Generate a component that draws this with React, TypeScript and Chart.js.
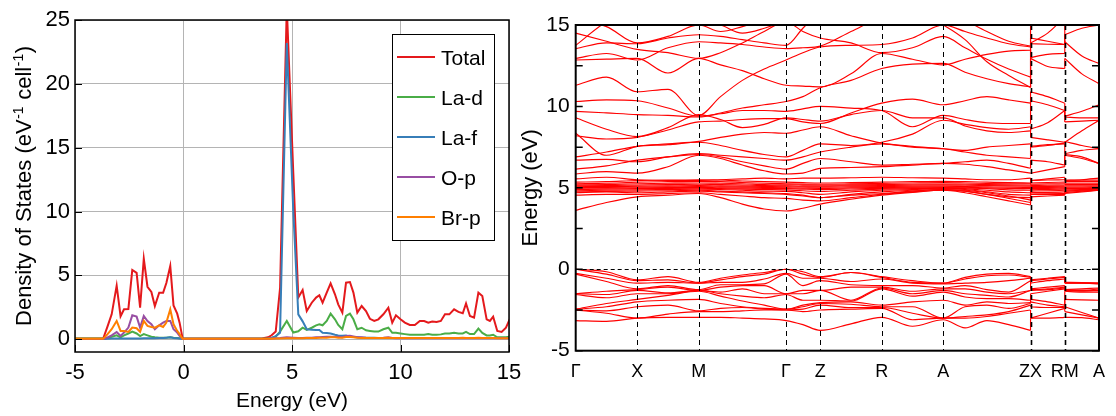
import React, { useEffect, useRef } from 'react';
import { Chart, registerables } from 'chart.js';

Chart.register(...registerables);

const FONT = "'Liberation Sans', Arial, Helvetica, sans-serif";

// ---------------- Density of states (left panel) ----------------
const dosEnergy = [
  -5, -3.7, -3.5, -3.31, -3.08, -2.9, -2.74, -2.54, -2.36, -2.16,
  -2.0, -1.83, -1.66, -1.48, -1.32, -1.12, -0.94, -0.79, -0.61, -0.46,
  -0.29, -0.18, -0.04,
  0.1, 3.6,
  3.9, 4.06, 4.25, 4.45, 4.76, 5.06, 5.29, 5.49, 5.68, 5.91,
  6.11, 6.26, 6.41, 6.6, 6.78, 6.98, 7.13, 7.32, 7.49, 7.67,
  7.83, 8.01, 8.21, 8.41, 8.59, 8.79, 8.98, 9.21, 9.44, 9.62,
  9.79, 10.0, 10.2, 10.43, 10.66, 10.89, 11.09, 11.28, 11.46, 11.66,
  11.86, 12.05, 12.25, 12.47, 12.67, 12.87, 13.02, 13.2, 13.39, 13.59,
  13.77, 13.97, 14.12, 14.27, 14.46, 14.66, 14.86, 15.04,
];

const dosTotal = [
  0.05, 0.05, 1.0, 1.95, 4.2, 1.8, 2.35, 2.37, 5.42, 5.2,
  2.47, 6.3, 4.11, 3.7, 2.6, 3.64, 3.64, 4.4, 5.73, 2.65,
  2.0, 1.3, 0.05,
  0.05, 0.05,
  0.15, 0.31, 0.6, 4.0, 26, 13, 3.26, 3.85, 2.21, 2.86,
  3.26, 3.44, 2.86, 3.65, 4.38, 3.52, 2.73, 2.08, 4.43, 4.48,
  3.65, 2.08, 2.6, 2.2, 1.6, 1.43, 1.56, 1.95, 2.47, 1.3,
  1.87, 1.56, 1.3, 1.12, 1.12, 1.43, 1.43, 1.3, 1.38, 1.35,
  1.43, 1.95, 1.95, 2.34, 2.14, 2.03, 2.8, 1.82, 1.69, 3.65,
  3.39, 1.56, 1.43, 1.77, 0.65, 0.57, 0.9, 1.6,
];

const dosLaD = [
  0.05, 0.05, 0.1, 0.2, 0.3, 0.15, 0.3, 0.45, 0.6, 0.45,
  0.25, 0.4, 0.3, 0.2, 0.15, 0.12, 0.12, 0.12, 0.15, 0.12,
  0.1, 0.08, 0.05,
  0.03, 0.03,
  0.05, 0.1, 0.2, 0.6, 1.43, 0.52, 0.62, 0.9, 0.73, 0.9,
  1.09, 1.17, 1.09, 1.43, 2.0, 1.56, 1.12, 0.78, 1.82, 2.0,
  1.56, 0.78, 0.9, 0.7, 0.65, 0.6, 0.6, 0.78, 0.9, 0.5,
  0.5, 0.45, 0.4, 0.35, 0.35, 0.35, 0.35, 0.4, 0.35, 0.35,
  0.38, 0.45, 0.45, 0.5, 0.45, 0.45, 0.57, 0.4, 0.4, 0.83,
  0.5, 0.3, 0.3, 0.35, 0.15, 0.15, 0.15, 0.2,
];

const dosLaF = [
  0.02, 0.02, 0.03, 0.05, 0.05, 0.05, 0.05, 0.05, 0.06, 0.06,
  0.05, 0.07, 0.07, 0.07, 0.07, 0.1, 0.1, 0.12, 0.15, 0.1,
  0.08, 0.05, 0.02,
  0.03, 0.03,
  0.03, 0.1, 0.25, 0.5, 23.2, 10, 1.95, 1.4, 0.78, 0.75,
  0.73, 0.72, 0.5, 0.48, 0.45, 0.35, 0.3, 0.28, 0.3, 0.2,
  0.18, 0.15, 0.12, 0.12, 0.12, 0.12, 0.1, 0.1, 0.1, 0.1,
  0.1, 0.1, 0.1, 0.1, 0.1, 0.1, 0.1, 0.1, 0.1, 0.1,
  0.1, 0.1, 0.1, 0.1, 0.1, 0.1, 0.1, 0.1, 0.1, 0.1,
  0.1, 0.1, 0.1, 0.1, 0.1, 0.1, 0.1, 0.1,
];

const dosOP = [
  0.02, 0.02, 0.15, 0.31, 0.57, 0.26, 0.52, 0.91, 1.87, 1.77,
  0.91, 1.82, 1.43, 1.17, 0.78, 1.09, 1.3, 1.43, 1.43, 0.78,
  0.52, 0.26, 0.02,
  0.02, 0.02,
  0.03, 0.05, 0.08, 0.1, 0.15, 0.12, 0.1, 0.1, 0.12, 0.12,
  0.15, 0.15, 0.18, 0.2, 0.2, 0.18, 0.2, 0.15, 0.25, 0.28,
  0.22, 0.15, 0.15, 0.12, 0.1, 0.1, 0.1, 0.12, 0.15, 0.1,
  0.08, 0.08, 0.08, 0.08, 0.08, 0.08, 0.08, 0.08, 0.08, 0.08,
  0.08, 0.08, 0.08, 0.08, 0.08, 0.08, 0.08, 0.08, 0.08, 0.08,
  0.08, 0.08, 0.08, 0.08, 0.08, 0.08, 0.08, 0.08,
];

const dosBrP = [
  0.03, 0.03, 0.4, 0.78, 1.43, 0.65, 0.65, 0.57, 0.91, 0.86,
  0.57, 1.43, 1.04, 0.96, 0.91, 1.09, 0.96, 1.3, 2.34, 1.17,
  0.65, 0.4, 0.03,
  0.03, 0.03,
  0.03, 0.04, 0.05, 0.06, 0.08, 0.08, 0.08, 0.08, 0.1, 0.1,
  0.1, 0.12, 0.12, 0.12, 0.15, 0.15, 0.12, 0.12, 0.18, 0.18,
  0.15, 0.12, 0.1, 0.1, 0.1, 0.1, 0.1, 0.1, 0.12, 0.1,
  0.1, 0.1, 0.1, 0.1, 0.1, 0.1, 0.1, 0.1, 0.1, 0.1,
  0.1, 0.1, 0.1, 0.1, 0.1, 0.12, 0.1, 0.1, 0.1, 0.12,
  0.1, 0.1, 0.1, 0.1, 0.08, 0.08, 0.08, 0.08,
];

const dosNames = ['Total', 'La-d', 'La-f', 'O-p', 'Br-p'];
const dosColors = ['#e4191c', '#4aad47', '#377eb8', '#984ea3', '#ff7f00'];
const dosXTicks = [-5, 0, 5, 10, 15];
const dosYTicks = [0, 5, 10, 15, 20, 25];

// ---------------- Band structure (right panel) ----------------
// k-path sample positions: Γ . X . M . . . Γ . Z . R . A . . . Z | X . R | M . A
const kPath = [
  0, 31, 62, 93, 124, 146, 168, 190, 212,
  229, 246.5, 277.5, 308.5, 339.5, 370.5, 392.5, 414.5, 436.5, 458.5,
  458.5, 475.75, 493,
  493, 510.25, 527.5,
];
const kTickPos = [0, 62, 124, 212, 246.5, 308.5, 370.5, 458.5, 493, 527.5];
const kTickLabels = ['Γ', 'X', 'M', 'Γ', 'Z', 'R', 'A', 'ZX', 'RM', 'A'];
const bandYTicks = [-5, 0, 5, 10, 15];

const valenceBands = [
  [-3.15, -3.2, -3.0, -2.95, -2.95, -2.95, -3.0, -3.05, -3.15, -3.4, -3.75, -3.35, -2.95, -3.5, -3.1, -3.6, -3.15, -3.4, -3.75, -3.0, -3.0, -2.95, -2.95, -2.97, -3.1],
  [-2.5, -2.7, -3.0, -2.75, -2.6, -2.6, -2.55, -2.5, -2.5, -2.6, -2.5, -2.45, -2.4, -3.1, -3.0, -3.0, -2.9, -2.7, -2.5, -3.0, -2.7, -2.4, -2.6, -2.8, -3.0],
  [-2.5, -2.55, -2.3, -2.2, -2.55, -2.4, -2.35, -2.45, -2.5, -2.45, -2.2, -2.35, -2.35, -2.7, -3.0, -2.9, -2.8, -2.6, -2.2, -2.3, -2.35, -2.35, -2.3, -2.65, -3.0],
  [-2.45, -2.3, -2.0, -1.9, -1.85, -2.1, -2.3, -2.4, -2.45, -2.3, -2.1, -2.15, -2.3, -2.3, -3.0, -2.3, -2.2, -2.4, -2.1, -2.0, -2.2, -2.3, -1.85, -1.88, -1.9],
  [-2.45, -2.1, -1.85, -1.6, -1.35, -1.65, -1.95, -2.2, -2.45, -2.2, -2.05, -2.0, -2.2, -2.0, -1.9, -2.2, -2.0, -2.1, -2.05, -1.85, -2.0, -2.2, -1.35, -1.4, -1.4],
  [-1.55, -1.75, -1.5, -1.5, -1.3, -1.5, -1.65, -1.75, -1.55, -1.9, -1.9, -1.95, -1.2, -1.65, -1.4, -1.7, -1.8, -1.8, -1.9, -1.5, -1.35, -1.2, -1.3, -1.35, -1.3],
  [-1.5, -1.55, -1.3, -1.45, -1.3, -1.4, -1.2, -1.5, -1.5, -1.5, -1.3, -1.9, -1.15, -1.5, -1.3, -1.5, -1.6, -1.7, -1.3, -1.3, -1.25, -1.15, -1.3, -1.3, -1.3],
  [-1.5, -1.35, -1.25, -1.1, -1.3, -1.1, -1.0, -1.0, -1.5, -1.3, -1.3, -1.1, -1.1, -1.35, -1.2, -1.2, -1.4, -1.5, -1.3, -1.25, -1.2, -1.1, -1.3, -1.3, -1.2],
  [-0.3, -0.75, -1.2, -1.0, -1.25, -0.95, -0.95, -0.9, -0.3, -1.0, -0.7, -0.95, -1.0, -1.0, -1.15, -1.0, -1.25, -1.4, -0.7, -1.2, -1.1, -1.0, -1.25, -1.2, -1.15],
  [-0.25, -0.55, -0.85, -0.8, -0.85, -0.8, -0.8, -0.6, -0.25, -0.55, -0.55, -0.75, -0.6, -0.85, -0.9, -0.85, -0.8, -0.7, -0.55, -0.85, -0.7, -0.6, -0.85, -0.85, -0.9],
  [0, -0.3, -0.7, -0.65, -0.85, -0.65, -0.45, -0.3, 0, -0.3, -0.5, -0.2, -0.5, -0.8, -0.85, -0.6, -0.4, -0.35, -0.5, -0.7, -0.6, -0.5, -0.85, -0.85, -0.85],
  [0, -0.15, -0.65, -0.45, -0.8, -0.55, -0.35, -0.2, 0, -0.15, -0.45, -0.2, -0.45, -0.7, -0.85, -0.5, -0.3, -0.25, -0.45, -0.65, -0.55, -0.45, -0.8, -0.82, -0.85],
];

const lowConductionBands = [
  [3.62, 4.1, 4.45, 4.55, 4.65, 4.4, 4.0, 3.7, 3.58, 3.75, 4.0, 4.3, 4.55, 4.72, 4.85, 4.7, 4.45, 4.2, 3.95, 4.45, 4.5, 4.55, 4.65, 4.75, 4.85],
  [4.55, 4.6, 4.6, 4.65, 4.7, 4.6, 4.5, 4.4, 4.35, 4.25, 4.2, 4.4, 4.6, 4.75, 4.85, 4.8, 4.6, 4.35, 4.1, 4.6, 4.6, 4.6, 4.7, 4.8, 4.85],
  [4.7, 4.75, 4.7, 4.75, 4.8, 4.75, 4.7, 4.65, 4.6, 4.5, 4.4, 4.55, 4.65, 4.8, 4.9, 4.85, 4.7, 4.5, 4.25, 4.7, 4.68, 4.65, 4.8, 4.85, 4.9],
];

const fBands = [
  [4.75, 4.78, 4.8, 4.82, 4.85, 4.8, 4.75, 4.7, 4.65, 4.55, 4.4, 4.6, 4.75, 4.85, 4.9, 4.8, 4.6, 4.45, 4.4, 4.7, 4.72, 4.75, 4.8, 4.82, 4.85],
  [4.82, 4.85, 4.88, 4.9, 4.92, 4.9, 4.85, 4.8, 4.78, 4.7, 4.6, 4.75, 4.85, 4.9, 4.95, 4.9, 4.75, 4.6, 4.55, 4.8, 4.82, 4.85, 4.88, 4.9, 4.92],
  [4.9, 4.92, 4.95, 4.97, 4.98, 4.95, 4.92, 4.9, 4.88, 4.82, 4.78, 4.85, 4.92, 4.95, 4.98, 4.95, 4.85, 4.75, 4.7, 4.88, 4.9, 4.92, 4.95, 4.95, 4.97],
  [4.97, 4.98, 5.0, 5.02, 5.03, 5.0, 4.98, 4.96, 4.95, 4.92, 4.9, 4.93, 4.97, 5.0, 5.02, 5.0, 4.95, 4.88, 4.85, 4.95, 4.97, 4.98, 5.0, 5.0, 5.02],
  [5.02, 5.03, 5.05, 5.06, 5.08, 5.06, 5.04, 5.02, 5.0, 4.98, 4.97, 5.0, 5.02, 5.04, 5.05, 5.04, 5.0, 4.97, 4.95, 5.02, 5.03, 5.04, 5.05, 5.05, 5.06],
  [5.07, 5.08, 5.1, 5.12, 5.14, 5.12, 5.1, 5.08, 5.06, 5.05, 5.04, 5.06, 5.08, 5.1, 5.1, 5.08, 5.06, 5.04, 5.03, 5.08, 5.09, 5.1, 5.12, 5.12, 5.12],
  [5.12, 5.14, 5.17, 5.2, 5.22, 5.2, 5.17, 5.14, 5.12, 5.1, 5.1, 5.12, 5.14, 5.16, 5.17, 5.16, 5.14, 5.12, 5.1, 5.15, 5.16, 5.17, 5.2, 5.2, 5.2],
  [5.18, 5.2, 5.25, 5.28, 5.3, 5.28, 5.25, 5.2, 5.18, 5.17, 5.16, 5.18, 5.2, 5.22, 5.23, 5.22, 5.2, 5.18, 5.16, 5.22, 5.24, 5.25, 5.28, 5.28, 5.28],
  [5.25, 5.28, 5.35, 5.38, 5.4, 5.38, 5.33, 5.28, 5.25, 5.23, 5.22, 5.24, 5.27, 5.3, 5.32, 5.3, 5.27, 5.25, 5.24, 5.3, 5.33, 5.35, 5.38, 5.38, 5.38],
  [5.35, 5.38, 5.45, 5.47, 5.5, 5.48, 5.42, 5.38, 5.35, 5.32, 5.3, 5.32, 5.35, 5.38, 5.4, 5.38, 5.35, 5.32, 5.3, 5.45, 5.48, 5.5, 5.47, 5.47, 5.47],
];

const upperBands = [
  [5.55, 5.65, 5.5, 5.45, 5.45, 5.5, 5.55, 5.6, 5.55, 5.6, 5.6, 5.62, 5.65, 5.62, 5.6, 5.55, 5.5, 5.5, 5.6, 5.45, 5.55, 5.65, 5.45, 5.5, 5.6],
  [5.85, 6.0, 5.9, 6.3, 7.0, 6.8, 6.4, 6.05, 5.85, 5.9, 6.2, 6.25, 6.3, 6.4, 6.5, 6.45, 6.3, 6.1, 5.9, 5.9, 6.1, 6.3, 7.0, 6.8, 6.5],
  [6.15, 6.35, 6.7, 6.9, 7.05, 6.9, 6.6, 6.35, 6.15, 6.5, 6.8, 6.6, 6.4, 6.45, 6.5, 6.6, 6.7, 6.5, 6.2, 6.7, 6.6, 6.4, 7.05, 6.9, 6.5],
  [6.7, 6.75, 6.6, 6.9, 7.1, 7.0, 6.9, 6.8, 6.7, 6.9, 7.2, 7.5, 7.7, 7.5, 7.4, 7.2, 7.0, 6.9, 6.8, 7.55, 7.65, 7.7, 7.1, 7.3, 7.4],
  [6.9, 7.2, 7.55, 7.65, 7.8, 7.6, 7.3, 7.05, 6.9, 7.3, 7.7, 7.6, 7.8, 8.3, 9.15, 8.9, 8.7, 8.6, 8.75, 8.1, 7.95, 7.8, 7.8, 8.5, 9.15],
  [8.35, 7.0, 7.55, 7.7, 7.85, 8.1, 8.3, 8.4, 8.35, 8.55, 8.75, 8.2, 7.75, 7.55, 7.4, 7.3, 7.5, 7.6, 7.7, 7.5, 7.6, 7.75, 7.85, 7.6, 7.4],
  [8.2, 8.0, 8.1, 8.55, 9.05, 9.1, 9.2, 9.25, 9.25, 9.05, 8.95, 9.6, 10.2, 10.45, 10.1, 10.35, 10.6, 10.4, 10.2, 10.9, 10.6, 10.2, 9.4, 9.7, 10.1],
  [10.3, 10.4, 10.35, 9.9, 9.4, 9.55, 9.75, 9.75, 9.7, 9.85, 10.0, 9.9, 9.75, 8.75, 9.45, 9.2, 9.0, 8.95, 8.95, 10.35, 10.1, 9.75, 9.35, 9.3, 9.3],
  [11.3, 11.8, 10.9, 11.05, 9.45, 10.6, 11.6, 12.3, 12.85, 13.3, 13.65, 13.75, 13.8, 14.2, 15.0, 14.6, 14.2, 13.85, 13.65, 13.85, 13.82, 13.8, 14.4, 14.8, 15.0],
  [9.7, 9.6, 9.5, 9.45, 9.35, 9.6, 9.9, 10.1, 10.3, 10.6, 11.15, 11.6, 12.33, 12.6, 12.64, 12.1, 11.7, 11.4, 11.2, 12.95, 12.45, 12.33, 12.95, 12.0, 11.4],
  [12.85, 12.9, 12.95, 12.05, 12.95, 12.55, 12.2, 11.7, 11.3, 11.25, 11.2, 12.0, 13.25, 12.9, 12.55, 12.9, 13.2, 13.4, 13.45, 13.0, 13.2, 13.25, 13.97, 13.1, 12.64],
  [12.95, 13.25, 12.85, 13.6, 13.97, 13.9, 13.8, 13.65, 13.55, 13.6, 13.7, 14.6, 15.5, 16, 16, 15.3, 14.6, 14.0, 13.7, 13.9, 14.5, 15.5, 15.0, 15.3, 15.5],
  [13.55, 13.9, 13.85, 14.2, 14.4, 14.3, 14.1, 13.9, 13.75, 14.8, 15.8, 16.5, 16.5, 16, 15.0, 14.1, 12.74, 11.9, 11.16, 15.5, 16, 16.5, 15.5, 16, 16],
  [13.75, 15.2, 16, 16.5, 17, 16.5, 16.2, 15.8, 15.5, 16, 16.5, 16.5, 16.5, 16.5, 16.5, 16.5, 16.5, 16.5, 16.5, 16.5, 16.5, 16.5, 16.5, 16.5, 16.5],
  [15.3, 14.9, 13.9, 14.3, 15.0, 14.6, 14.9, 15.3, 15.6, 16, 16, 16, 16, 16, 16, 16, 16, 16, 16, 16, 16, 16, 16, 16, 16],
  [16, 16, 15.5, 15.2, 15.3, 15.0, 14.5, 14.8, 15.3, 16, 16, 16, 16, 16, 16, 16, 16, 16, 16, 16, 16, 16, 16, 16, 16],
  [9.3, 8.6, 8.15, 8.7, 9.5, 9.2, 8.7, 8.9, 9.3, 9.2, 9.1, 9.5, 9.75, 9.3, 9.3, 8.8, 8.5, 8.4, 8.5, 8.6, 9.0, 9.75, 9.05, 9.1, 9.15],
  [14.5, 14.0, 13.5, 13.3, 12.95, 13.3, 13.9, 14.6, 15.2, 14.6, 14.2, 13.9, 13.3, 13.6, 14.3, 13.6, 12.9, 12.3, 11.8, 14.2, 14.0, 13.8, 15.4, 15.6, 15.8],
];

// continuous pieces of the path (index ranges) and the jumps between them
const pathPieces = [[0, 18], [19, 21], [22, 24]];
const pathJumps = [[18, 19], [21, 22]];

// ---------------- helpers ----------------
function drawFrame(chart: any, width: number) {
  const { ctx, chartArea } = chart;
  const { left, top, right, bottom } = chartArea;
  ctx.save();
  ctx.strokeStyle = '#000';
  ctx.lineWidth = width;
  ctx.strokeRect(left, top, right - left, bottom - top);
  ctx.restore();
}

const dosDecor = {
  id: 'dosDecor',
  afterDraw(chart: any) {
    const { ctx, chartArea, scales } = chart;
    const { left, top, right, bottom } = chartArea;
    drawFrame(chart, 1.5);
    ctx.save();
    ctx.strokeStyle = '#000';
    ctx.lineWidth = 1;
    dosXTicks.forEach((v) => {
      const x = Math.round(scales.x.getPixelForValue(v)) + 0.5;
      ctx.beginPath();
      ctx.moveTo(x, bottom);
      ctx.lineTo(x, bottom - 7);
      ctx.stroke();
    });
    dosYTicks.forEach((v) => {
      const y = Math.round(scales.y.getPixelForValue(v)) + 0.5;
      ctx.beginPath();
      ctx.moveTo(left, y);
      ctx.lineTo(left + 7, y);
      ctx.stroke();
    });
    ctx.restore();

    // legend
    const lx = 392, ly = 34, lw = 102, lh = 206;
    ctx.save();
    ctx.fillStyle = '#fff';
    ctx.fillRect(lx, ly, lw, lh);
    ctx.strokeStyle = '#000';
    ctx.lineWidth = 1;
    ctx.strokeRect(lx + 0.5, ly + 0.5, lw, lh);
    dosNames.forEach((name, i) => {
      const y = 57 + i * 40;
      ctx.strokeStyle = dosColors[i];
      ctx.lineWidth = 2;
      ctx.beginPath();
      ctx.moveTo(397, y);
      ctx.lineTo(435, y);
      ctx.stroke();
      ctx.fillStyle = '#000';
      ctx.font = `21px ${FONT}`;
      ctx.textAlign = 'left';
      ctx.textBaseline = 'alphabetic';
      ctx.fillText(name, 441, y + 7.5);
    });
    ctx.restore();

    // x title
    ctx.save();
    ctx.fillStyle = '#000';
    ctx.font = `21px ${FONT}`;
    ctx.textAlign = 'center';
    ctx.textBaseline = 'alphabetic';
    ctx.fillText('Energy (eV)', (left + right) / 2, 407);
    ctx.restore();

    // y title with superscripts
    const parts: [string, boolean][] = [
      ['Density of States (eV', false],
      ['-1', true],
      [' cell', false],
      ['-1', true],
      [')', false],
    ];
    ctx.save();
    ctx.fillStyle = '#000';
    ctx.translate(31, 186);
    ctx.rotate(-Math.PI / 2);
    ctx.textBaseline = 'alphabetic';
    ctx.textAlign = 'left';
    let total = 0;
    parts.forEach(([t, sup]) => {
      ctx.font = sup ? `14px ${FONT}` : `22px ${FONT}`;
      total += ctx.measureText(t).width + (sup ? 1 : 0);
    });
    let x = -total / 2;
    parts.forEach(([t, sup]) => {
      ctx.font = sup ? `14px ${FONT}` : `22px ${FONT}`;
      ctx.fillText(t, x + (sup ? 0.5 : 0), sup ? -8 : 0);
      x += ctx.measureText(t).width + (sup ? 1 : 0);
    });
    ctx.restore();
  },
};

const bandDecor = {
  id: 'bandDecor',
  afterDatasetsDraw(chart: any) {
    const { ctx, chartArea, scales } = chart;
    const { left, top, right, bottom } = chartArea;
    ctx.save();
    ctx.strokeStyle = '#000';
    kTickPos.slice(1, -1).forEach((v, i) => {
      const x = Math.round(scales.x.getPixelForValue(v)) + 0.5;
      const jump = i >= kTickPos.length - 4;
      ctx.lineWidth = jump ? 1.6 : 1;
      ctx.setLineDash([5, 4]);
      ctx.beginPath();
      ctx.moveTo(x, top);
      ctx.lineTo(x, bottom);
      ctx.stroke();
    });
    const y0 = Math.round(scales.y.getPixelForValue(0)) + 0.5;
    ctx.lineWidth = 1;
    ctx.setLineDash([4, 3]);
    ctx.beginPath();
    ctx.moveTo(left, y0);
    ctx.lineTo(right, y0);
    ctx.stroke();
    ctx.setLineDash([]);
    ctx.lineWidth = 1.5;
    for (let e = -5; e <= 15; e += 2.5) {
      const y = scales.y.getPixelForValue(e);
      ctx.beginPath();
      ctx.moveTo(left, y);
      ctx.lineTo(left + 7, y);
      ctx.moveTo(right, y);
      ctx.lineTo(right - 7, y);
      ctx.stroke();
    }
    ctx.restore();
    drawFrame(chart, 2);

    ctx.save();
    ctx.fillStyle = '#000';
    ctx.font = `22px ${FONT}`;
    ctx.translate(25, (top + bottom) / 2);
    ctx.rotate(-Math.PI / 2);
    ctx.textAlign = 'center';
    ctx.textBaseline = 'alphabetic';
    ctx.fillText('Energy (eV)', 0, 0);
    ctx.restore();
  },
};

function buildBandDatasets() {
  const all = [...valenceBands, ...lowConductionBands, ...fBands, ...upperBands];
  const ds: any[] = [];
  const style = {
    borderColor: '#ff0000',
    borderWidth: 1.15,
    pointRadius: 0,
    fill: false,
  };
  all.forEach((band) => {
    pathPieces.forEach(([s, e]) => {
      const data = [];
      for (let i = s; i <= e; i++) data.push({ x: kPath[i], y: band[i] });
      ds.push({ ...style, data, cubicInterpolationMode: 'monotone' });
    });
    pathJumps.forEach(([a, b]) => {
      ds.push({
        ...style,
        data: [
          { x: kPath[a], y: band[a] },
          { x: kPath[b], y: band[b] },
        ],
        tension: 0,
      });
    });
  });
  return ds;
}

export default function App() {
  const leftRef = useRef<HTMLCanvasElement>(null);
  const rightRef = useRef<HTMLCanvasElement>(null);

  useEffect(() => {
    const series = [dosTotal, dosLaD, dosLaF, dosOP, dosBrP];
    const dosDatasets = series
      .map((s, i) => ({
        label: dosNames[i],
        data: dosEnergy.map((e, j) => ({ x: e, y: s[j] })),
        borderColor: dosColors[i],
        borderWidth: 2,
        pointRadius: 0,
        tension: 0,
        fill: false,
      }))
      .reverse();

    const tickFont = { family: FONT, size: 22 };

    const left = new Chart(leftRef.current as HTMLCanvasElement, {
      type: 'line',
      data: { datasets: dosDatasets as any },
      options: {
        responsive: false,
        animation: false,
        events: [],
        layout: { padding: { left: 0, right: 21, top: 20, bottom: 0 } },
        plugins: { legend: { display: false }, tooltip: { enabled: false } },
        scales: {
          x: {
            type: 'linear',
            min: -5,
            max: 15,
            afterBuildTicks: (s: any) => {
              s.ticks = dosXTicks.map((v) => ({ value: v }));
            },
            afterFit: (s: any) => {
              s.height = 64;
            },
            grid: { color: '#b4b4b4', lineWidth: 1, drawTicks: false },
            border: { display: false },
            ticks: { font: tickFont, color: '#000', padding: 8, maxRotation: 0 },
          },
          y: {
            type: 'linear',
            min: -1,
            max: 25,
            afterBuildTicks: (s: any) => {
              s.ticks = dosYTicks.map((v) => ({ value: v }));
            },
            afterFit: (s: any) => {
              s.width = 75;
            },
            grid: { color: '#b4b4b4', lineWidth: 1, drawTicks: false },
            border: { display: false },
            ticks: { font: tickFont, color: '#000', padding: 5 },
          },
        },
      } as any,
      plugins: [dosDecor],
    });

    const right = new Chart(rightRef.current as HTMLCanvasElement, {
      type: 'line',
      data: { datasets: buildBandDatasets() },
      options: {
        responsive: false,
        animation: false,
        events: [],
        layout: { padding: { left: 0, right: 12.5, top: 25, bottom: 0 } },
        plugins: { legend: { display: false }, tooltip: { enabled: false } },
        scales: {
          x: {
            type: 'linear',
            min: 0,
            max: 527.5,
            afterBuildTicks: (s: any) => {
              s.ticks = kTickPos.map((v) => ({ value: v }));
            },
            afterFit: (s: any) => {
              s.height = 65.3;
            },
            grid: { display: false, drawTicks: false },
            border: { display: false },
            ticks: {
              autoSkip: false,
              maxRotation: 0,
              font: { family: FONT, size: 18 },
              color: '#000',
              padding: 11,
              callback: (_v: any, i: number) => kTickLabels[i],
            },
          },
          y: {
            type: 'linear',
            min: -5,
            max: 15,
            afterBuildTicks: (s: any) => {
              s.ticks = bandYTicks.map((v) => ({ value: v }));
            },
            afterFit: (s: any) => {
              s.width = 63.7;
            },
            grid: { display: false, drawTicks: false },
            border: { display: false },
            ticks: { font: { family: FONT, size: 21 }, color: '#000', padding: 6 },
          },
        },
      } as any,
      plugins: [bandDecor],
    });

    return () => {
      left.destroy();
      right.destroy();
    };
  }, []);

  return (
    <div style={{ position: 'fixed', left: 0, top: 0, width: 1116, height: 416, background: '#fff' }}>
      <canvas
        ref={leftRef}
        width={530}
        height={416}
        style={{ position: 'absolute', left: 0, top: 0, width: 530, height: 416 }}
      />
      <canvas
        ref={rightRef}
        width={604}
        height={416}
        style={{ position: 'absolute', left: 512, top: 0, width: 604, height: 416 }}
      />
    </div>
  );
}
